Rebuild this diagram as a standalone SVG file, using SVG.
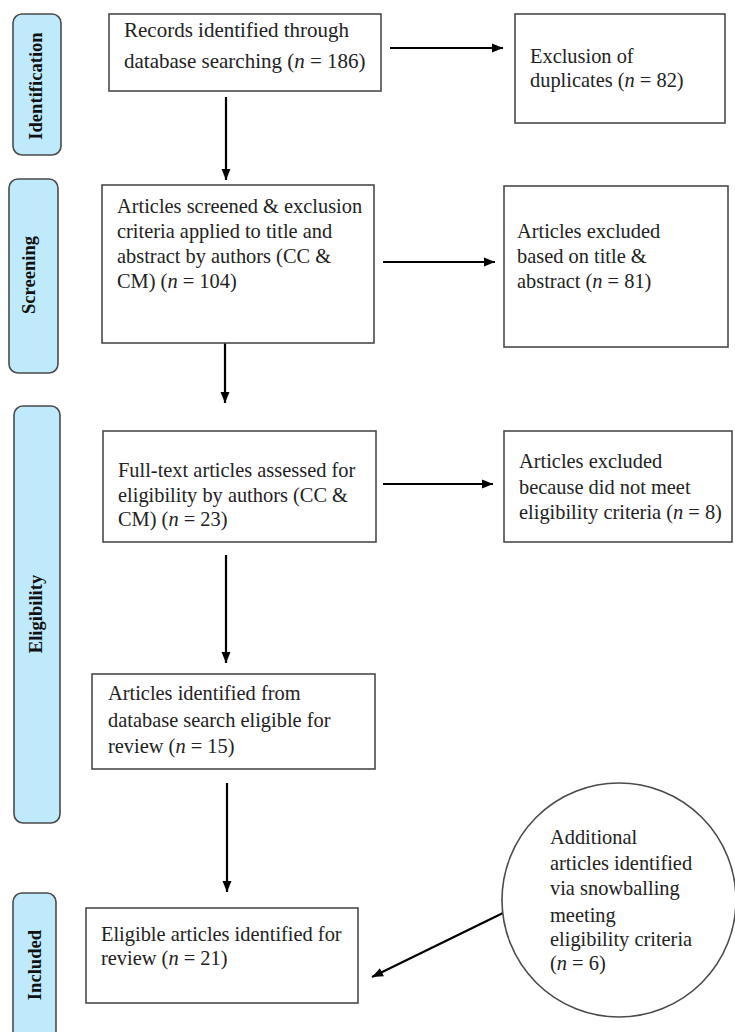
<svg xmlns="http://www.w3.org/2000/svg" width="735" height="1032" viewBox="0 0 735 1032">
<style>
.box{fill:#fff;stroke:#4a4a4a;stroke-width:1.6}
.pill{fill:#bfeafc;stroke:#4a4a4a;stroke-width:1.6}
.t{font-family:"Liberation Serif",serif;font-size:20.4px;fill:#222}
.t1{font-family:"Liberation Serif",serif;font-size:21px;fill:#222}
.side{font-family:"Liberation Serif",serif;font-size:18.6px;font-weight:bold;fill:#111;text-anchor:middle}
.i{font-style:italic}
.conn{stroke:#000;stroke-width:2.2;fill:none;marker-end:url(#ah)}
</style>
<defs>
<marker id="ah" markerUnits="userSpaceOnUse" markerWidth="12" markerHeight="12" viewBox="0 0 12 12" refX="11" refY="6" orient="auto">
<path d="M0,1.5 L11,6 L0,10.5 Z" fill="#000"/>
</marker>
</defs>
<g id="stage-identification">
<rect class="pill" x="13" y="14" width="48" height="141" rx="9"/>
<text class="side" transform="translate(42,86) rotate(-90)">Identification</text>
</g>
<g id="stage-screening">
<rect class="pill" x="9" y="179" width="49" height="194" rx="9"/>
<text class="side" transform="translate(35,275) rotate(-90)">Screening</text>
</g>
<g id="stage-eligibility">
<rect class="pill" x="14" y="406" width="46" height="417" rx="9"/>
<text class="side" transform="translate(41.5,614) rotate(-90)">Eligibility</text>
</g>
<g id="stage-included">
<rect class="pill" x="13" y="893" width="43" height="160" rx="9"/>
<text class="side" transform="translate(41,965) rotate(-90)">Included</text>
</g>
<g id="connectors">
<line class="conn" x1="226" y1="97" x2="226" y2="180"/>
<line class="conn" x1="390" y1="48" x2="503" y2="48"/>
<line class="conn" x1="383" y1="262" x2="495" y2="262"/>
<line class="conn" x1="225" y1="343" x2="225" y2="403"/>
<line class="conn" x1="383" y1="484" x2="493" y2="484"/>
<line class="conn" x1="226" y1="555" x2="226" y2="663"/>
<line class="conn" x1="227" y1="783" x2="227" y2="892"/>
<line class="conn" x1="503" y1="913" x2="372" y2="977"/>
</g>
<g id="records">
<rect class="box" x="109" y="14" width="272" height="77"/>
<text class="t1" x="124" y="37">Records identified through</text>
<text class="t1" x="124" y="68">database searching (<tspan class="i">n</tspan> = 186)</text>
</g>
<g id="duplicates">
<rect class="box" x="515" y="14" width="210" height="109"/>
<text class="t" x="530" y="63">Exclusion of</text>
<text class="t" x="530" y="87">duplicates (<tspan class="i">n</tspan> = 82)</text>
</g>
<g id="screened">
<rect class="box" x="102" y="185" width="272" height="158"/>
<text class="t" x="117" y="213">Articles screened &amp; exclusion</text>
<text class="t" x="117" y="238">criteria applied to title and</text>
<text class="t" x="117" y="263">abstract by authors (CC &amp;</text>
<text class="t" x="117" y="288">CM) (<tspan class="i">n</tspan> = 104)</text>
</g>
<g id="excluded-title">
<rect class="box" x="504" y="186" width="224" height="161"/>
<text class="t" x="517" y="238">Articles excluded</text>
<text class="t" x="517" y="263">based on title &amp;</text>
<text class="t" x="517" y="288">abstract (<tspan class="i">n</tspan> = 81)</text>
</g>
<g id="fulltext">
<rect class="box" x="103" y="431" width="273" height="111"/>
<text class="t" x="118" y="477">Full-text articles assessed for</text>
<text class="t" x="118" y="502">eligibility by authors (CC &amp;</text>
<text class="t" x="118" y="526">CM) (<tspan class="i">n</tspan> = 23)</text>
</g>
<g id="excluded-eligibility">
<rect class="box" x="504" y="431" width="228" height="111"/>
<text class="t" x="519" y="468">Articles excluded</text>
<text class="t" x="519" y="494">because did not meet</text>
<text class="t" x="519" y="519">eligibility criteria (<tspan class="i">n</tspan> = 8)</text>
</g>
<g id="database-eligible">
<rect class="box" x="92" y="674" width="283" height="95"/>
<text class="t" x="108" y="700">Articles identified from</text>
<text class="t" x="108" y="727">database search eligible for</text>
<text class="t" x="108" y="753">review (<tspan class="i">n</tspan> = 15)</text>
</g>
<g id="included">
<rect class="box" x="86" y="908" width="272" height="95"/>
<text class="t" x="101" y="941">Eligible articles identified for</text>
<text class="t" x="101" y="965">review (<tspan class="i">n</tspan> = 21)</text>
</g>
<g id="snowballing">
<circle class="box" cx="619" cy="900" r="117"/>
<text class="t" x="550" y="844">Additional</text>
<text class="t" x="550" y="870">articles identified</text>
<text class="t" x="550" y="895">via snowballing</text>
<text class="t" x="550" y="922">meeting</text>
<text class="t" x="550" y="946">eligibility criteria</text>
<text class="t" x="550" y="970">(<tspan class="i">n</tspan> = 6)</text>
</g>
</svg>
